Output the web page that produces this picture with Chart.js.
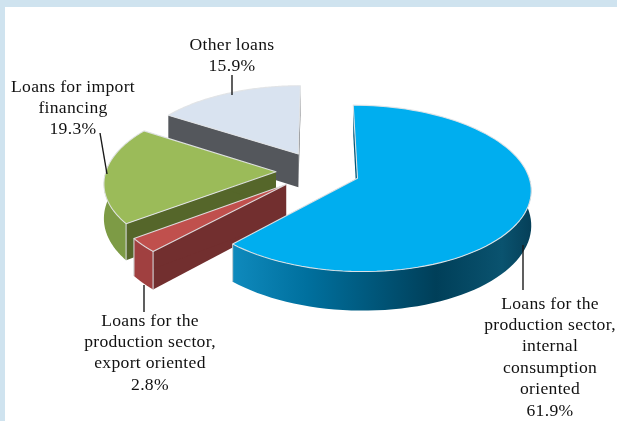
<!DOCTYPE html>
<html>
<head>
<meta charset="utf-8">
<style>
html,body{margin:0;padding:0;background:#fff;width:617px;height:421px;overflow:hidden}
#frame{position:absolute;left:0;top:0;width:612px;height:414px;border-top:7px solid #cfe3ef;border-left:5px solid #cfe3ef}
#c{position:absolute;left:0;top:0}
</style>
<script src="https://cdn.jsdelivr.net/npm/chart.js@4"></script>
</head>
<body>
<div id="frame"></div>
<canvas id="c" width="617" height="421"></canvas>
<script>
const categories = [
  "Loans for the production sector, internal consumption oriented",
  "Loans for the production sector, export oriented",
  "Loans for import financing",
  "Other loans"
];
const values = [61.9, 2.8, 19.3, 15.9];
const topColors = ["#00aeef", "#c0504d", "#9bbb59", "#d9e3f0"];
const radialColors = ["#005a7d", "#722f2f", "#55662a", "#54575c"];
const outerColors = [null, "#a04040", "#7d9b45", "#8a8a8a"];
const labelLines = [
  ["Loans for the", "production sector,", "internal", "consumption", "oriented"],
  ["Loans for the", "production sector,", "export oriented"],
  ["Loans for import", "financing"],
  ["Other loans"]
];
const labelX = [550, 150, 73, 232];
const labelTop = [304, 321, 87, 45];
const lineStep = 21.4;
const leaders = [[523,245,523,290],[144,285,144,312],[100,133,107,174],[232,75,232,95]];

// Projection of the pie's ground plane
const CX = 318, CY = 171, K = 0.472, PERSP = 0.0007, RADIUS = 170, EXPLODE = 42, DEPTH = 34;
const P = v => 1 / (1 - PERSP * v);
const proj = (u, v, z) => { const p = P(v); return [CX + u * p, CY + K * v * p + (z || 0) * p]; };
const invRow = y => { const t = (y - CY) / K; return t / (1 + PERSP * t); };

function shift(el){ const m = (el.startAngle + el.endAngle) / 2; return [Math.cos(m) * EXPLODE, Math.sin(m) * EXPLODE]; }

function polygon(ctx, pts){ ctx.beginPath(); pts.forEach((q,i)=> i ? ctx.lineTo(q[0],q[1]) : ctx.moveTo(q[0],q[1])); ctx.closePath(); }

const pie3d = {
  id: "pie3d",
  beforeDatasetsDraw(chart){
    const ctx = chart.ctx, arcs = chart.getDatasetMeta(0).data, W = chart.width;
    const S = RADIUS / arcs[0].outerRadius;
    const grad = ctx.createLinearGradient(232, 0, 532, 0);
    grad.addColorStop(0, "#0f8abd");
    grad.addColorStop(0.25, "#00709e");
    grad.addColorStop(0.68, "#003f59");
    grad.addColorStop(0.9, "#0a536f");
    grad.addColorStop(1, "#053f58");
    [3,2,1,0].forEach(i => {
      const el = arcs[i], [u0, v0] = shift(el);
      const rim = (phi, z) => proj(u0 + RADIUS * Math.cos(phi), v0 + RADIUS * Math.sin(phi), z);
      const apex = z => proj(u0, v0, z);
      // radial faces
      ctx.fillStyle = radialColors[i];
      [el.startAngle, el.endAngle].forEach(phi => {
        polygon(ctx, [apex(0), rim(phi,0), rim(phi,DEPTH), apex(DEPTH)]);
        ctx.fill();
      });
      // outer wall, only the part turned to the viewer
      const steps = 90, top = [], bot = [];
      for (let s = 0; s <= steps; s++){
        const phi = el.startAngle + (el.endAngle - el.startAngle) * s / steps;
        if (Math.sin(phi) > -0.08){ top.push(rim(phi,0)); bot.unshift(rim(phi,DEPTH)); }
      }
      if (top.length > 1){
        ctx.fillStyle = outerColors[i] || grad;
        polygon(ctx, top.concat(bot));
        ctx.fill();
      }
      // top face: the library's arc, one pixel row at a time
      const all = [];
      for (let s = 0; s <= steps; s++) all.push(rim(el.startAngle + (el.endAngle - el.startAngle) * s / steps, 0));
      all.push(apex(0));
      const ys = all.map(q => q[1]);
      const y0 = Math.floor(Math.min.apply(null, ys)) - 1, y1 = Math.ceil(Math.max.apply(null, ys)) + 1;
      for (let y = y0; y < y1; y++){
        const a = invRow(y), b = invRow(y + 1), p = P((a + b) / 2);
        ctx.save();
        ctx.beginPath(); ctx.rect(0, y, W, 1); ctx.clip();
        ctx.setTransform(p * S, 0, 0, S / (b - a), CX + p * (u0 - el.x * S), y + (v0 - el.y * S - a) / (b - a));
        el.draw(ctx);
        ctx.restore();
      }
      // pale bevel along the edges
      ctx.strokeStyle = "rgba(226,228,230,0.95)";
      ctx.lineWidth = 1.1;
      ctx.lineJoin = "round";
      polygon(ctx, all);
      ctx.stroke();
      ctx.strokeStyle = "rgba(215,218,220,0.7)";
      ctx.lineWidth = 0.9;
      const vert = i === 0 ? [el.endAngle] : i === 1 ? [el.startAngle, el.endAngle] : i === 2 ? [el.startAngle] : [];
      vert.forEach(phi => { polygon(ctx, [rim(phi,0), rim(phi,DEPTH)]); ctx.stroke(); });
    });
    return false;
  },
  afterDraw(chart){
    const ctx = chart.ctx;
    ctx.save();
    ctx.strokeStyle = "#1a1a1a";
    ctx.lineWidth = 1.4;
    leaders.forEach(l => { ctx.beginPath(); ctx.moveTo(l[0],l[1]); ctx.lineTo(l[2],l[3]); ctx.stroke(); });
    ctx.fillStyle = "#111";
    ctx.font = '17.6px "Liberation Serif", serif';
    ctx.textAlign = "center";
    ctx.textBaseline = "middle";
    if ("letterSpacing" in ctx) ctx.letterSpacing = "0.3px";
    values.forEach((val, i) => {
      labelLines[i].concat([val.toFixed(1) + "%"]).forEach((t, j) => {
        ctx.fillText(t, labelX[i], labelTop[i] + j * lineStep);
      });
    });
    ctx.restore();
  }
};

new Chart(document.getElementById("c"), {
  type: "pie",
  data: { labels: categories, datasets: [{ data: values, backgroundColor: topColors, borderWidth: 0 }] },
  options: {
    responsive: false,
    animation: false,
    layout: { padding: 0 },
    plugins: { legend: { display: false }, tooltip: { enabled: false } }
  },
  plugins: [pie3d]
});
</script>
</body>
</html>
